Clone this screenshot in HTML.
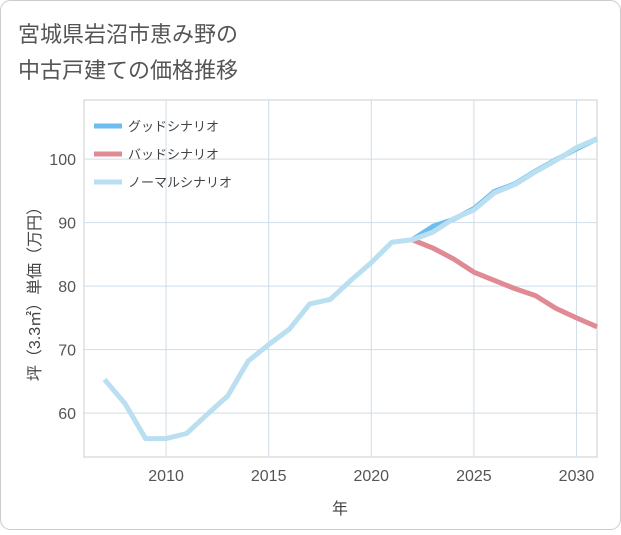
<!DOCTYPE html>
<html><head><meta charset="utf-8"><style>
body{margin:0;background:#fff;}
#c{width:621px;height:530px;position:relative;font-family:"Liberation Sans","Noto Sans CJK JP",sans-serif;}
</style></head><body>
<div id="c">
<svg id="s" width="621" height="530">
<rect x="0.5" y="0.5" width="620" height="529" rx="10" fill="#fff" stroke="#ccc"/>
<text x="18" y="42" font-size="22" fill="#555">宮城県岩沼市恵み野の</text>
<text x="18" y="78" font-size="22" fill="#555">中古戸建ての価格推移</text>
<rect x="84" y="100" width="513" height="357" fill="#fff" stroke="#ccc"/>
<g id="grid"></g><g id="lines"></g>
<text x="340" y="514" font-size="16" fill="#444" text-anchor="middle">年</text>
<text transform="translate(40,290) rotate(-90)" font-size="16" fill="#444" text-anchor="middle">坪（3.3㎡）単価（万円）</text>
<g id="legend"></g>
</svg></div>
<script>
const years=[2007,2008,2009,2010,2011,2012,2013,2014,2015,2016,2017,2018,2019,2020,2021,2022,2023,2024,2025,2026,2027,2028,2029,2030,2031];
const normal=[65.3,61.5,56,56,56.8,59.8,62.7,68.2,70.8,73.2,77.2,77.9,80.9,83.7,86.9,87.3,88.5,90.6,92,94.7,96,98,99.8,101.8,103.2];
const goodYears=[2022,2023,2024,2025,2026,2027,2028,2029,2030,2031];
const good=[87.3,89.4,90.5,92.2,94.9,96.1,98.1,99.9,101.6,103.2];
const bad=[87.3,86,84.3,82.2,80.9,79.6,78.5,76.5,75,73.6];
const xTicks=[2010,2015,2020,2025,2030];
const yTicks=[60,70,80,90,100];
const NS="http://www.w3.org/2000/svg";
const X=v=>84+(v-2006)*513/25;
const Y=v=>457-(v-53.1)*357/(109.3-53.1);
function mk(t,a,p){const e=document.createElementNS(NS,t);for(const k in a)e.setAttribute(k,a[k]);p.appendChild(e);return e;}
const g=document.getElementById('grid');
xTicks.forEach(t=>{mk('line',{x1:X(t),x2:X(t),y1:100,y2:457,stroke:'#cfdde8'},g);
const l=mk('text',{x:X(t),y:481,'font-size':16,fill:'#555','text-anchor':'middle'},g);l.textContent=t;

});
yTicks.forEach(t=>{mk('line',{x1:84,x2:597,y1:Y(t),y2:Y(t),stroke:'#cfdde8'},g);
const l=mk('text',{x:76,y:Y(t)+6,'font-size':16,fill:'#555','text-anchor':'end'},g);l.textContent=t;

});
const L=document.getElementById('lines');
function line(xs,ys,c,n){const p=mk('polyline',{points:xs.map((x,i)=>X(x)+','+Y(ys[i])).join(' '),fill:'none',stroke:c,'stroke-width':5,'stroke-linejoin':'round'},L);

}
line(goodYears,good,'#6dbdf0','good-scenario-line');
line(goodYears,bad,'#e08a94','bad-scenario-line');
line(years,normal,'#b9dff0','normal-scenario-line');
const lg=document.getElementById('legend');
[['グッドシナリオ','#6dbdf0'],['バッドシナリオ','#e08a94'],['ノーマルシナリオ','#b9dff0']].forEach((d,i)=>{
const y=126+i*28;
const r=mk('line',{x1:94,x2:122,y1:y,y2:y,stroke:d[1],'stroke-width':5},lg);


const t=mk('text',{x:128,y:y+5,'font-size':13,fill:'#444'},lg);t.textContent=d[0];

});
</script>
</body></html>
